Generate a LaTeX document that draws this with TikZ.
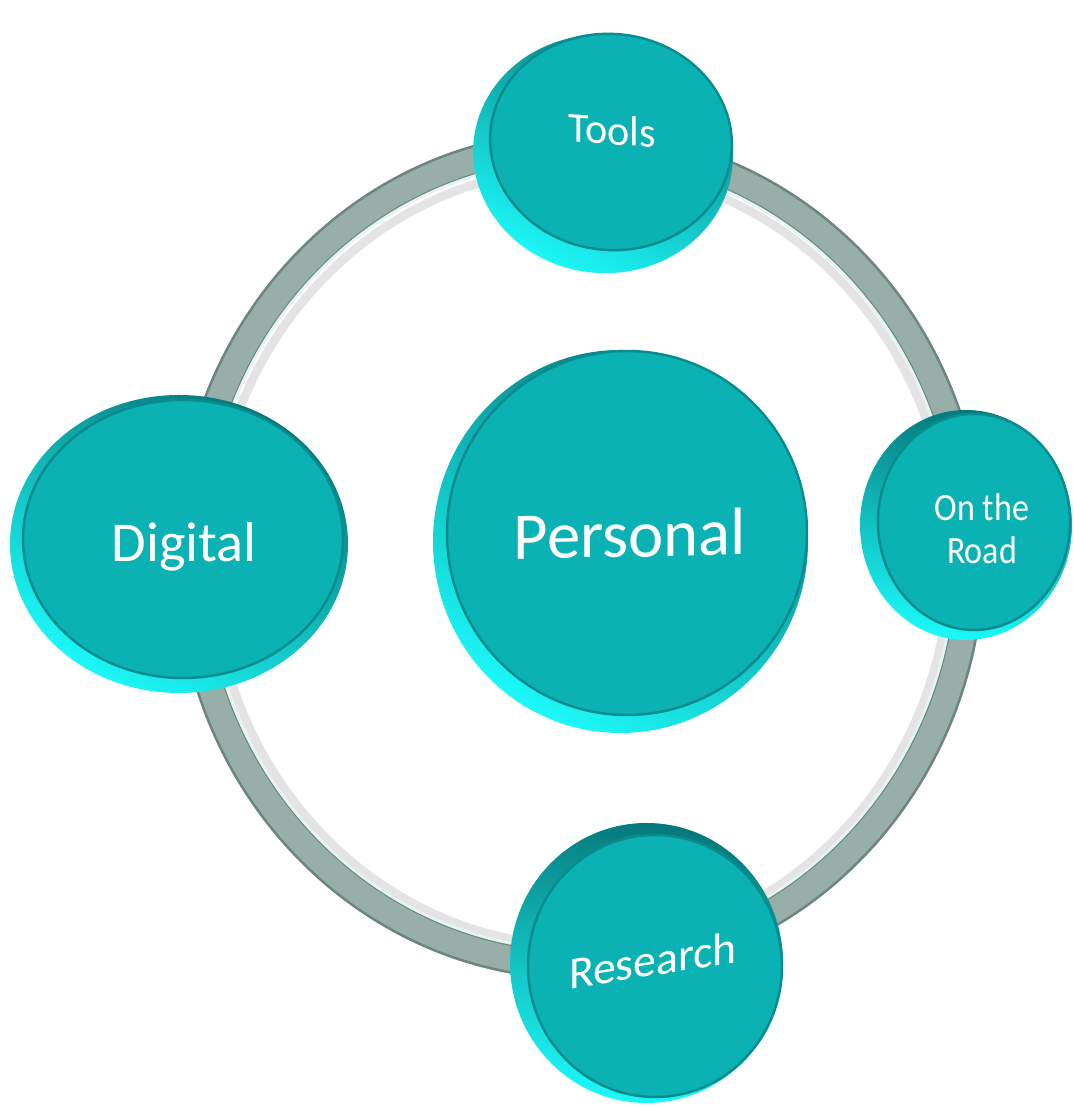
\documentclass[tikz,border=0pt]{standalone}
\usepackage{fontspec}
\setmainfont{Carlito}
\usepackage{xcolor}
\usepackage{tikz}

\definecolor{facecol}{HTML}{0BB2B4}
\definecolor{rimlight}{HTML}{1CF8F8}
\definecolor{rimdark}{HTML}{06777A}
\definecolor{ringcol}{HTML}{97AFA8}
\definecolor{ringedge}{HTML}{6C8580}
\definecolor{ringlight}{HTML}{E4F4F2}

\begin{document}
\begin{tikzpicture}[
    discface/.style={fill=facecol, draw=rimdark!65!facecol, line width=1.4pt},
    discrim/.style={top color=rimdark, bottom color=rimlight, shading angle=#1},
    disctext/.style={text=white, inner sep=0pt, align=center}
]
\useasboundingbox (0,0) rectangle (21.46,22.14);

% ring behind the discs
\draw[line width=5pt, black!35, opacity=0.3] (11.62,11.0) ellipse (7.38 and 7.78);
\draw[line width=17pt, ringedge] (11.6,11.04) ellipse (7.8 and 8.2);
\draw[line width=14pt, ringcol] (11.6,11.04) ellipse (7.8 and 8.2);
\draw[line width=1.6pt, ringlight] (11.6,11.04) ellipse (7.5 and 7.9);

% Tools
\shade[discrim=-25] (12.06,19.06) ellipse [x radius=2.6, y radius=2.38, rotate=-6];
\draw[discface] (12.22,19.30) ellipse [x radius=2.42, y radius=2.16, rotate=-6];
\node[disctext, font=\fontsize{24}{28}\selectfont, yslant=-0.07] (tools) at (12.24,19.54) {Tools};

% Digital
\shade[discrim=-30] (3.58,11.26) ellipse (3.38 and 2.98);
\draw[discface] (3.66,11.36) ellipse (3.2 and 2.78);
\node[disctext, font=\fontsize{32}{36}\selectfont, anchor=base] (digital) at (3.68,10.91) {Digital};

% Personal
\shade[discrim=-30] (12.41,11.31) ellipse (3.75 and 3.83);
\draw[discface] (12.54,11.48) ellipse (3.6 and 3.64);
\node[disctext, font=\fontsize{38}{42}\selectfont, anchor=base, yslant=0.02] (personal) at (12.6,11.0) {Personal};

% On the Road
\shade[discrim=-10] (19.32,11.64) ellipse (2.12 and 2.3);
\draw[discface] (19.48,11.70) ellipse (1.92 and 2.16);
\node[disctext, font=\fontsize{22}{24.5}\selectfont, xscale=0.88] (road) at (19.64,11.57) {On the\\Road};

% Research
\shade[discrim=-10] (12.93,2.88) ellipse (2.73 and 2.8);
\draw[discface] (13.1,2.82) ellipse (2.54 and 2.62);
\node[disctext, font=\fontsize{26}{30}\selectfont, yslant=0.16] (research) at (13.06,2.94) {Research};
\end{tikzpicture}
\end{document}
